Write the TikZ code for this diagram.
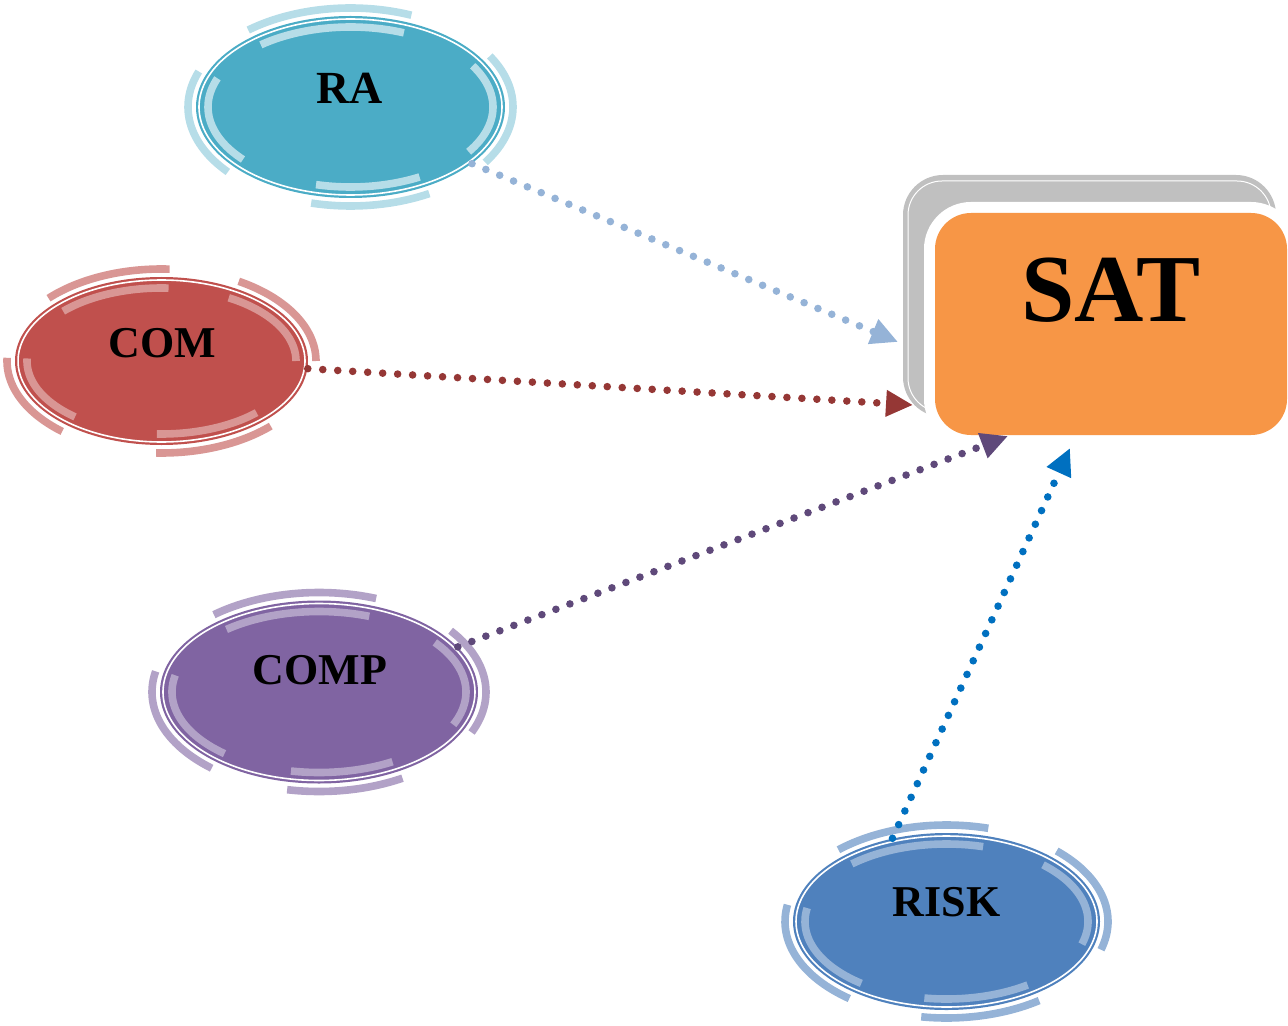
\documentclass[tikz,border=0pt]{standalone}
\usepackage{fontspec}
\setmainfont{Liberation Serif}
\usetikzlibrary{shapes.geometric,arrows.meta}

\definecolor{raMain}{HTML}{4BACC6}
\definecolor{raLight}{HTML}{B6DDE8}
\definecolor{raLink}{HTML}{95B3D7}
\definecolor{comMain}{HTML}{C0504D}
\definecolor{comLight}{HTML}{D99694}
\definecolor{comLink}{HTML}{953735}
\definecolor{compMain}{HTML}{8064A2}
\definecolor{compLight}{HTML}{B2A2C7}
\definecolor{compLink}{HTML}{5F497A}
\definecolor{riskMain}{HTML}{4F81BD}
\definecolor{riskLight}{HTML}{95B3D7}
\definecolor{riskLink}{HTML}{0070C0}
\definecolor{satOrange}{HTML}{F79646}
\definecolor{satGray}{HTML}{C0C0C0}

\tikzset{
  blob/.style={ellipse, inner sep=0pt, draw=none},
  lbl/.style={inner sep=0pt, font=\bfseries\fontsize{22}{22}\selectfont},
  link/.style={line width=3.8pt, line cap=round, dash pattern=on 0pt off 7.5pt,
    -{Triangle[length=13.5pt,width=12.5pt]}},
  ringarc/.style={line width=3.8pt, line cap=butt}
}

% white inner rim plus inner and outer broken rings around an ellipse
% #1 cx, #2 cy (downwards), #3 rx, #4 ry, #5 ring colour, #6 list of arcs
\newcommand\ringdeco[6]{%
  \draw[white, line width=0.8pt] plot[domain=0:360, samples=120, smooth, variable=\t]
    ({#1+(#3-3)*cos(\t)},{-#2+(#4-3)*sin(\t)}) -- cycle;
  \foreach \sa/\sb in {#6}{%
    \draw[#5, ringarc] plot[domain=\sa:\sb, samples=30, smooth, variable=\t]
      ({#1+(#3-12)*cos(\t)},{-#2+(#4-11)*sin(\t)});
    \draw[#5, ringarc] plot[domain=\sa:\sb, samples=30, smooth, variable=\t]
      ({#1+(#3+8)*cos(\t)},{-#2+(#4+8)*sin(\t)});
  }%
}

\begin{document}
\begin{tikzpicture}[x=0.5pt, y=0.5pt]
\useasboundingbox (0,0) rectangle (1288,-1026);

% SAT box with the grey card behind it
\fill[satGray, rounded corners=20pt] (903,-175) rectangle (1276,-417);
\draw[white, line width=0.5pt, rounded corners=17pt] (908,-181) rectangle (1271,-412);
\node[rectangle, rounded corners=18pt, fill=satOrange, inner sep=0pt,
  minimum width=176pt, minimum height=111pt,
  preaction={draw=white, line width=11pt}] (sat) at (1111,-324) {};
\node[inner sep=0pt, font=\bfseries\fontsize{48}{48}\selectfont] (sat-text) at (1111,-290) {SAT};

% RA
\node[blob, fill=raMain, minimum width=154.5pt, minimum height=91pt] (ra) at (350.5,-107) {};
\ringdeco{350.5}{107}{154.5}{91}{raLight}{-34/31, 68/129, 159/221, 256/299}
\node[lbl, font=\bfseries\fontsize{23}{23}\selectfont] (ra-text) at (350,-88) {RA};

% COM
\node[blob, fill=comMain, minimum width=146.5pt, minimum height=84pt] (com) at (161.5,-361) {};
\ringdeco{161.5}{361}{146.5}{84}{comLight}{0/60, 87/137, 178/230, 268/315}
\node[lbl] (com-text) at (162,-343) {COM};

% COMP
\node[blob, fill=compMain, minimum width=159pt, minimum height=91.5pt] (comp) at (319,-692) {};
\ringdeco{319}{692}{159}{91.5}{compLight}{-24/38, 70/129, 168/230, 259/300}
\node[lbl] (comp-text) at (320,-670) {COMP};

% RISK
\node[blob, fill=riskMain, minimum width=153.5pt, minimum height=88.5pt] (risk) at (946.5,-921.5) {};
\ringdeco{946.5}{921.5}{153.5}{88.5}{riskLight}{-17/47, 75/132, 170/233, 261/305}
\node[lbl] (risk-text) at (946.5,-902) {RISK};

% arrow ends next to the SAT box
\coordinate (sat-ra) at (898,-342);
\coordinate (sat-com) at (913,-405);
\coordinate (sat-comp) at (1008,-436);
\coordinate (sat-risk) at (1070,-448);

% connectors
\draw[link, raLink] (ra.-25) -- (sat-ra);
\draw[link, comLink] (com.-3.5) -- (sat-com);
\draw[link, compLink] (comp.18.7) -- (sat-comp);
\draw[link, riskLink] (risk.123.4) -- (sat-risk);
\end{tikzpicture}
\end{document}
